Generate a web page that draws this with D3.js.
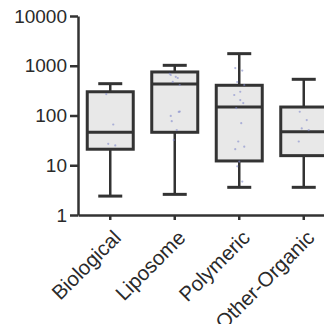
<!DOCTYPE html>
<html>
<head>
<meta charset="utf-8">
<script src="https://cdn.jsdelivr.net/npm/d3@7"></script>
<style>
  html, body { margin: 0; padding: 0; background: #fff; }
  svg { display: block; }
  .axis text { font-family: "Liberation Sans", Arial, sans-serif; font-size: 19px; fill: #2a2a2a; }
  .axis path, .axis line { stroke: #333; stroke-width: 2.5px; }
  .x-axis text { font-size: 20.5px; }
</style>
</head>
<body>
<div id="chart"></div>
<script>
  const categories = ["Biological", "Liposome", "Polymeric", "Other-Organic"];
  const whiskerLow = [2.4, 2.6, 3.6, 3.6];
  const q1 = [21, 46, 12.2, 15.6];
  const medians = [46, 430, 148, 47];
  const q3 = [300, 750, 405, 148];
  const whiskerHigh = [436, 1020, 1750, 534];
  const yTicks = [1, 10, 100, 1000, 10000];
  const points = [
    [270, 66, 27, 25],
    [652, 567, 473, 410, 690, 600, 118, 77, 51, 32, 120, 98],
    [900, 800, 471, 410, 258, 204, 178, 141, 70, 30, 23.6, 21, 11.8, 4.7, 9.5, 300],
    [119, 81, 55, 51, 30]
  ];
  // small fixed horizontal offsets for the dots, in px
  const jitter = [-4, 3, -2, 5, -5, 1, 4, -3, 2, -1, 5, -4, 0, 3, -2, 1];

  const width = 324, height = 324;
  const margin = { top: 16, left: 78 };
  const axisY = 215;
  const step = 64.5;

  const svg = d3.select("#chart").append("svg")
    .attr("width", width).attr("height", height);

  const y = d3.scaleLog().domain([1, 10000]).range([axisY, margin.top]);
  const x = d3.scaleBand().domain(categories)
    .range([margin.left, margin.left + step * categories.length]).padding(0);
  const cx = (d) => x(d) + x.bandwidth() / 2;
  const boxW = 46, capW = 24;

  const data = categories.map((c, i) => ({
    c, lo: whiskerLow[i], q1: q1[i], med: medians[i], q3: q3[i], hi: whiskerHigh[i], pts: points[i]
  }));

  const g = svg.append("g");
  const rows = g.selectAll(".box").data(data).join("g").attr("class", "box");
  const stroke = "#333";

  rows.append("line")
    .attr("x1", (d) => cx(d.c)).attr("x2", (d) => cx(d.c))
    .attr("y1", (d) => y(d.lo)).attr("y2", (d) => y(d.hi))
    .attr("stroke", stroke).attr("stroke-width", 2.5);
  rows.append("rect")
    .attr("x", (d) => cx(d.c) - boxW / 2)
    .attr("y", (d) => y(d.q3))
    .attr("width", boxW)
    .attr("height", (d) => y(d.q1) - y(d.q3))
    .attr("fill", "#e8e8e8").attr("stroke", stroke).attr("stroke-width", 3);
  rows.append("line")
    .attr("x1", (d) => cx(d.c) - boxW / 2).attr("x2", (d) => cx(d.c) + boxW / 2)
    .attr("y1", (d) => y(d.med)).attr("y2", (d) => y(d.med))
    .attr("stroke", stroke).attr("stroke-width", 3);
  ["lo", "hi"].forEach((k) => {
    rows.append("line")
      .attr("x1", (d) => cx(d.c) - capW / 2).attr("x2", (d) => cx(d.c) + capW / 2)
      .attr("y1", (d) => y(d[k])).attr("y2", (d) => y(d[k]))
      .attr("stroke", stroke).attr("stroke-width", 3);
  });
  rows.selectAll("circle")
    .data((d) => d.pts.map((v, j) => ({ v, c: d.c, j })))
    .join("circle")
    .attr("cx", (p) => cx(p.c) + jitter[p.j % jitter.length])
    .attr("cy", (p) => y(p.v))
    .attr("r", 1.1)
    .attr("fill", "#8088cc").attr("opacity", 0.6);

  svg.append("g").attr("class", "axis")
    .attr("transform", `translate(${margin.left},0)`)
    .call(d3.axisLeft(y).tickValues(yTicks).tickFormat(d3.format("d")).tickSize(8).tickSizeOuter(0).tickPadding(3));

  const xAxis = svg.append("g").attr("class", "axis x-axis")
    .attr("transform", `translate(0,${axisY})`)
    .call(d3.axisBottom(x).tickSize(5).tickSizeOuter(0));
  xAxis.selectAll("text")
    .attr("text-anchor", "end")
    .attr("dy", 0)
    .attr("y", 0)
    .attr("transform", "translate(12,24) rotate(-45)");
</script>
</body>
</html>
